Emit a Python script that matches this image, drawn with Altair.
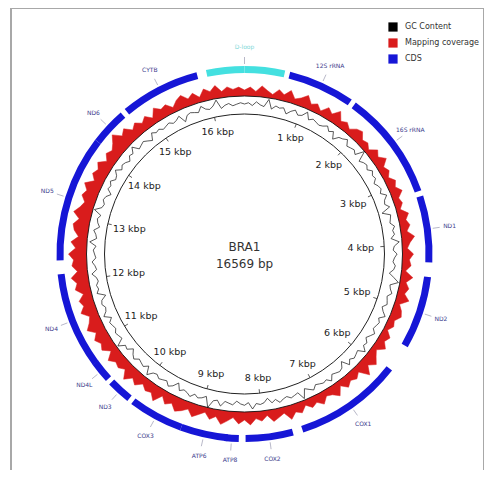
import altair as alt
import pandas as pd
import numpy as np

# ---------------- data ----------------
GENOME_LEN = 16569
TITLE = "BRA1"
SUBTITLE = "16569 bp"

cds_names = ["12S rRNA", "16S rRNA", "ND1", "ND2", "COX1", "COX2", "ATP8", "ATP6",
             "COX3", "ND3", "ND4L", "ND4", "ND5", "ND6", "CYTB"]
cds_start = [648, 1671, 3307, 4470, 5904, 7586, 8366, 8527, 9207, 10059, 10470, 10760,
             12337, 14149, 14747]
cds_end = [1601, 3229, 4262, 5511, 7445, 8269, 8572, 9207, 9990, 10404, 10766, 12137,
           14148, 14673, 15887]

dloop_name = "D-loop"
dloop_start = [16024, 1]
dloop_end = [16569, 576]

kbp_ticks = list(range(1, 17))

legend_names = ["GC Content", "Mapping coverage", "CDS"]

# mapping coverage (depth units), 180 bins clockwise from the origin
coverage = [6, 9, 5, 11, 7, 4, 10, 6, 12, 5,
            8, 13, 6, 9, 4, 11, 7, 14, 6, 9,
            5, 10, 12, 6, 8, 4, 11, 7, 13, 6,
            9, 5, 10, 7, 12, 6, 8, 4, 11, 7,
            10, 6, 13, 8, 5, 11, 7, 9, 4, 12,
            6, 10, 7, 13, 5, 9, 11, 6, 8, 4,
            10, 7, 12, 5, 9, 14, 8, 16, 6, 10,
            7, 11, 5, 13, 8, 6, 12, 7, 10, 5,
            11, 8, 14, 6, 9, 12, 5, 10, 7, 13,
            8, 12, 6, 10, 14, 7, 11, 5, 9, 13,
            7, 11, 14, 8, 12, 6, 15, 9, 11, 7,
            13, 9, 16, 8, 12, 10, 15, 7, 14, 11,
            15, 10, 17, 12, 9, 16, 11, 14, 8, 15,
            12, 17, 10, 15, 13, 18, 11, 16, 9, 14,
            16, 11, 18, 13, 10, 15, 12, 17, 9, 14,
            11, 15, 8, 13, 10, 14, 20, 12, 16, 9,
            13, 8, 12, 6, 14, 9, 11, 5, 10, 13,
            7, 11, 5, 12, 8, 13, 6, 10, 7, 9]

# GC content deviation (skew units), 240 windows
gc_content = [0, 1, -1, 2, 0, -1, 5, -2, 1, 0, 1, -3, 0, 2, -1, 0, 4, -1, 1, 0,
              -1, 0, 2, -1, 1, -4, 0, 1, 3, -1, 0, 1, -1, 6, -2, 0, 1, -1, 2, 0,
              1, -2, 0, 1, -1, 3, 0, -1, 2, -5, 1, 0, -1, 2, 0, 1, -2, 4, 0, -1,
              2, 0, -1, 1, 0, -3, 1, 5, -1, 0, 2, -1, 0, 1, -2, 0, 3, -1, 1, 0,
              -1, 2, 0, -2, 1, 0, 4, -1, 0, 1, -1, 2, -4, 0, 1, 0, -1, 3, 0, 1,
              0, -1, 2, 0, -2, 5, -1, 0, 1, -1, 0, 2, -1, 1, -3, 0, 1, 0, 4, -1,
              1, 0, -2, 1, 0, -1, 3, -1, 0, 6, -2, 0, 1, -1, 2, 0, -1, 1, -4, 0,
              2, -1, 0, 1, -1, 0, 4, -2, 1, 0, -1, 2, 0, -3, 1, 0, 5, -1, 0, 1,
              -1, 0, 1, -2, 3, 0, -1, 1, 0, -4, 2, 0, 1, -1, 0, 3, -1, 0, 2, -1,
              0, 1, -1, 4, -1, 0, 2, -2, 0, 1, -1, 5, 0, -1, 1, 0, -3, 1, 0, 2,
              -1, 0, 3, -1, 1, 0, -2, 1, 0, 4, -1, 0, 1, -1, -3, 2, 0, 1, -1, 0,
              1, -1, 0, 2, -4, 0, 1, 0, -1, 3, 0, -1, 1, 5, -2, 0, 1, -1, 0, 1]

# ---------------- geometry / style ----------------
W, H = 473, 462
CX, CY = 233.5, 246.0
R_INNER = 140
R_GC = 150
GC_PX = 1.3
R_COV = 158
COV_PX = 1.0
R_CDS_IN, R_CDS_OUT = 181, 188
R_LEAD1, R_LEAD2 = 190, 197
R_LAB = 207
R_KBP_SIDE, R_KBP_TOP = 116, 125

BLUE = "#1616d6"
RED = "#d91c1c"
CYAN = "#44e0e0"
NAVY = "#3c3c8c"
FONT = "DejaVu Sans"

theta_scale = alt.Scale(domain=[0, GENOME_LEN], range=[0, 2 * np.pi])


def px_expr(pos, r):
    return f"{CX} + ({r}) * sin(datum.{pos} / {GENOME_LEN} * 2 * PI)"


def py_expr(pos, r):
    return f"{CY} - ({r}) * cos(datum.{pos} / {GENOME_LEN} * 2 * PI)"


XN = dict(scale=None, axis=None)

# coverage polygon
n_cov = len(coverage)
cov_df = pd.DataFrame({
    "idx": list(range(n_cov + 1)),
    "pos": [i * GENOME_LEN / n_cov for i in range(n_cov + 1)],
    "cov": coverage + [coverage[0]],
})
cov_layer = alt.Chart(cov_df).mark_line(
    fill=RED, stroke=RED, strokeWidth=0.5
).transform_calculate(
    r=f"{R_COV} + datum.cov * {COV_PX}"
).transform_calculate(
    px=px_expr("pos", "datum.r"), py=py_expr("pos", "datum.r")
).encode(
    x=alt.X("px:Q", **XN), y=alt.Y("py:Q", **XN), order="idx:Q"
)

one = pd.DataFrame({"k": [0]})
white_disc = alt.Chart(one).mark_arc(
    theta=0, theta2=2 * np.pi, radius=R_COV, fill="white", stroke="#111", strokeWidth=0.9
).encode(x=alt.value(CX), y=alt.value(CY))

inner_circle = alt.Chart(one).mark_arc(
    theta=0, theta2=2 * np.pi, radius=R_INNER, fillOpacity=0, stroke="#222", strokeWidth=1
).encode(x=alt.value(CX), y=alt.value(CY))

# GC line
n_gc = len(gc_content)
gc_df = pd.DataFrame({
    "idx": list(range(n_gc + 1)),
    "pos": [i * GENOME_LEN / n_gc for i in range(n_gc + 1)],
    "gc": gc_content + [gc_content[0]],
})
gc_layer = alt.Chart(gc_df).mark_line(
    stroke="#111", strokeWidth=0.7
).transform_calculate(
    r=f"{R_GC} + datum.gc * {GC_PX}"
).transform_calculate(
    px=px_expr("pos", "datum.r"), py=py_expr("pos", "datum.r")
).encode(
    x=alt.X("px:Q", **XN), y=alt.Y("py:Q", **XN), order="idx:Q"
)

# kbp ticks and labels
kbp_df = pd.DataFrame({"kb": kbp_ticks})
kbp_df["pos"] = kbp_df["kb"] * 1000
kbp_df["label"] = kbp_df["kb"].astype(str) + " kbp"

kbp_ticks_layer = alt.Chart(kbp_df).mark_rule(
    stroke="#333", strokeWidth=0.8
).transform_calculate(
    px=px_expr("pos", R_INNER), py=py_expr("pos", R_INNER),
    px2=px_expr("pos", R_INNER - 4), py2=py_expr("pos", R_INNER - 4)
).encode(
    x=alt.X("px:Q", **XN), y=alt.Y("py:Q", **XN), x2="px2:Q", y2="py2:Q"
)

kbp_text = alt.Chart(kbp_df).mark_text(
    fontSize=9.5, color="#222", font=FONT, align="center", baseline="middle"
).transform_calculate(
    rl=f"{R_KBP_SIDE} + {R_KBP_TOP - R_KBP_SIDE} * abs(cos(datum.pos / {GENOME_LEN} * 2 * PI))"
).encode(
    theta=alt.Theta("pos:Q", scale=theta_scale),
    radius=alt.Radius("rl:Q", scale=None),
    text="label:N",
    x=alt.value(CX), y=alt.value(CY),
)

# CDS arcs
cds_df = pd.DataFrame({"name": cds_names, "start": cds_start, "end": cds_end})
cds_df["kind"] = "CDS"
cds_df["mid"] = (cds_df["start"] + cds_df["end"]) / 2

cds_layer = alt.Chart(cds_df).mark_arc(
    radius=R_CDS_OUT, radius2=R_CDS_IN
).encode(
    theta=alt.Theta("start:Q", scale=theta_scale),
    theta2="end:Q",
    color=alt.Color(
        "kind:N",
        scale=alt.Scale(domain=legend_names, range=["#000000", RED, BLUE]),
        legend=alt.Legend(
            title=None, orient="none", legendX=377, legendY=14,
            symbolType="square", symbolSize=85, symbolStrokeWidth=0,
            symbolOpacity=1, labelFontSize=8, labelFont=FONT,
            labelColor="#333", labelOffset=7, rowPadding=6, padding=0,
        ),
    ),
    x=alt.value(CX), y=alt.value(CY),
)

dloop_df = pd.DataFrame({"name": [dloop_name] * 2, "start": dloop_start, "end": dloop_end})
dloop_layer = alt.Chart(dloop_df).mark_arc(
    radius=R_CDS_OUT, radius2=R_CDS_IN, color=CYAN
).encode(
    theta=alt.Theta("start:Q", scale=theta_scale),
    theta2="end:Q",
    x=alt.value(CX), y=alt.value(CY),
)

# leaders and labels
lab_df = pd.concat([
    cds_df[["name", "mid"]],
    pd.DataFrame({"name": [dloop_name], "mid": [0.0]}),
], ignore_index=True)

leader_layer = alt.Chart(lab_df).mark_rule(
    stroke="#9a9ab0", strokeWidth=0.7
).transform_calculate(
    px=px_expr("mid", R_LEAD1), py=py_expr("mid", R_LEAD1),
    px2=px_expr("mid", R_LEAD2), py2=py_expr("mid", R_LEAD2)
).encode(
    x=alt.X("px:Q", **XN), y=alt.Y("py:Q", **XN), x2="px2:Q", y2="py2:Q"
)

cds_labels = alt.Chart(cds_df).mark_text(
    fontSize=6, color=NAVY, font=FONT, align="center", baseline="middle"
).encode(
    theta=alt.Theta("mid:Q", scale=theta_scale),
    radius=alt.value(R_LAB),
    text="name:N",
    x=alt.value(CX), y=alt.value(CY),
)

dloop_label = alt.Chart(pd.DataFrame({"name": [dloop_name], "mid": [0.0]})).mark_text(
    fontSize=6, color="#7fd8d8", font=FONT, align="center", baseline="middle"
).encode(
    theta=alt.Theta("mid:Q", scale=theta_scale),
    radius=alt.value(R_LAB),
    text="name:N",
    x=alt.value(CX), y=alt.value(CY),
)

center_df = pd.DataFrame({"t": [TITLE]})
center1 = alt.Chart(center_df).mark_text(
    fontSize=12, color="#333", font=FONT, align="center", baseline="middle"
).encode(text="t:N", x=alt.value(CX), y=alt.value(CY - 7))
center_df2 = pd.DataFrame({"t": [SUBTITLE]})
center2 = alt.Chart(center_df2).mark_text(
    fontSize=12, color="#333", font=FONT, align="center", baseline="middle"
).encode(text="t:N", x=alt.value(CX), y=alt.value(CY + 10))

# frame (left, top, right edges)
frame_l = alt.Chart(one).mark_rule(stroke="#a8a8a8", strokeWidth=2).encode(
    x=alt.value(0), y=alt.value(0), y2=alt.value(H + 20))
frame_t = alt.Chart(one).mark_rule(stroke="#a8a8a8", strokeWidth=2).encode(
    x=alt.value(0), x2=alt.value(W), y=alt.value(0))
frame_r = alt.Chart(one).mark_rule(stroke="#a8a8a8", strokeWidth=2).encode(
    x=alt.value(W), y=alt.value(0), y2=alt.value(H + 20))

chart = alt.layer(
    cov_layer, white_disc, inner_circle, gc_layer, kbp_ticks_layer, kbp_text,
    cds_layer, dloop_layer, leader_layer, cds_labels, dloop_label,
    center1, center2, frame_l, frame_t, frame_r,
).properties(
    width=W, height=H,
    padding={"left": 3, "top": 0, "right": 0, "bottom": 0},
    autosize=alt.AutoSizeParams(type="none"),
).configure_view(stroke=None)

chart.save("out.html", embed_options={"renderer": "svg", "actions": False})
